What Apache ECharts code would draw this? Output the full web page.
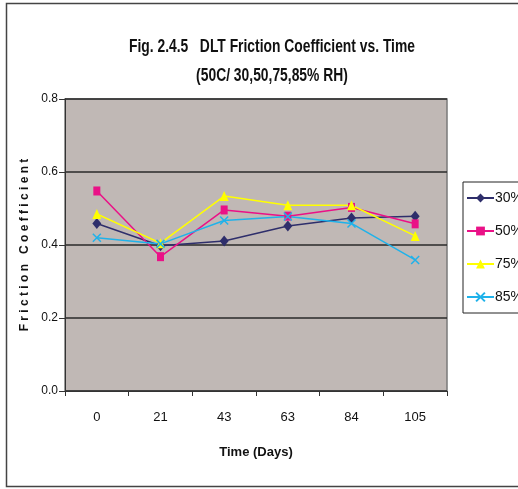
<!DOCTYPE html>
<html>
<head>
<meta charset="utf-8">
<script src="https://cdn.jsdelivr.net/npm/echarts@6/dist/echarts.min.js"></script>
<style>
  html, body { margin: 0; padding: 0; background: #ffffff; }
  #chart { width: 518px; height: 489px; }
</style>
</head>
<body>
<div id="chart"></div>
<script>
// Sampling days
const days = ['0', '21', '43', '63', '84', '105'];

// Friction coefficient per relative humidity
const rh30 = [0.459, 0.398, 0.411, 0.452, 0.474, 0.479];
const rh50 = [0.548, 0.368, 0.496, 0.479, 0.503, 0.458];
const rh75 = [0.485, 0.405, 0.534, 0.509, 0.509, 0.425];
const rh85 = [0.420, 0.403, 0.467, 0.478, 0.459, 0.359];

// Y axis ticks
const yTicks = [0.0, 0.2, 0.4, 0.6, 0.8];

// Chart heading lines
const titleLines = ['Fig. 2.4.5   DLT Friction Coefficient vs. Time', '(50C/ 30,50,75,85% RH)'];

const FONT = "'Liberation Sans', Arial, sans-serif";
const X_MARK = 'path://M0,0L10,10M10,0L0,10';

function lineSeries(name, data, color, symbol, size, stroke) {
  return {
    name: name,
    type: 'line',
    data: data,
    symbol: symbol,
    symbolSize: size,
    showSymbol: true,
    lineStyle: { color: color, width: 1.5 },
    itemStyle: stroke
      ? { color: color, borderColor: color, borderWidth: 1.5 }
      : { color: color, borderWidth: 0 },
    emphasis: { disabled: true },
    z: 3
  };
}

// Narrow bold heading text, horizontally condensed
function headingText(text, y) {
  return {
    type: 'text',
    x: 272,
    y: y,
    scaleX: 0.77,
    style: {
      text: text,
      fill: '#111111',
      font: 'bold 18px ' + FONT,
      textAlign: 'center',
      textVerticalAlign: 'middle'
    },
    silent: true
  };
}

const chart = echarts.init(document.getElementById('chart'), null, { renderer: 'canvas' });

chart.setOption({
  animation: false,
  backgroundColor: '#ffffff',
  textStyle: { fontFamily: FONT },
  graphic: [
    {
      type: 'rect',
      shape: { x: 6.5, y: 3.5, width: 530, height: 483 },
      style: { fill: 'none', stroke: '#444444', lineWidth: 1.5 },
      silent: true,
      z: -10
    },
    headingText(titleLines[0], 47),
    headingText(titleLines[1], 76)
  ],
  legend: {
    orient: 'vertical',
    left: 463,
    top: 182,
    padding: [9, 12, 9, 3],
    itemGap: 19,
    itemWidth: 27,
    itemHeight: 11,
    borderColor: '#222222',
    borderWidth: 1,
    backgroundColor: '#ffffff',
    textStyle: { fontFamily: FONT, fontSize: 14, color: '#111111', padding: [0, 0, 0, -4] },
    data: ['30%', '50%', '75%', '85%']
  },
  grid: {
    left: 65,
    right: 71,
    top: 99,
    bottom: 98,
    show: true,
    backgroundColor: '#c0b8b5',
    borderColor: '#7a7a7a',
    borderWidth: 1.5
  },
  xAxis: {
    type: 'category',
    data: days,
    boundaryGap: true,
    name: 'Time (Days)',
    nameLocation: 'middle',
    nameGap: 55,
    nameTextStyle: { fontFamily: FONT, fontSize: 13, fontWeight: 'bold', color: '#111111' },
    axisLine: { lineStyle: { color: '#333333', width: 1 } },
    axisTick: { show: true, interval: 0, length: 5, lineStyle: { color: '#333333' } },
    axisLabel: { margin: 20, fontFamily: FONT, fontSize: 13, color: '#111111' },
    splitLine: { show: false }
  },
  yAxis: {
    type: 'value',
    min: yTicks[0],
    max: yTicks[yTicks.length - 1],
    interval: 0.2,
    name: 'F r i c t i o n   C o e f f i c i e n t',
    nameLocation: 'middle',
    nameGap: 21,
    nameRotate: 90,
    nameTextStyle: { fontFamily: FONT, fontSize: 12, fontWeight: 'bold', color: '#111111' },
    axisLine: { show: true, lineStyle: { color: '#333333', width: 1 } },
    axisTick: { show: true, length: 6, lineStyle: { color: '#333333' } },
    axisLabel: {
      margin: 7,
      fontFamily: FONT,
      fontSize: 12,
      color: '#111111',
      formatter: function (v) { return v.toFixed(1); }
    },
    splitLine: { show: true, lineStyle: { color: '#2a2a2a', width: 1.5 } }
  },
  series: [
    lineSeries('30%', rh30, '#2e2e6b', 'diamond', [9, 11], false),
    lineSeries('50%', rh50, '#ea1187', 'rect', [7, 9], false),
    lineSeries('75%', rh75, '#ffff00', 'triangle', [9, 10], false),
    lineSeries('85%', rh85, '#1fb2ea', X_MARK, [8, 8], true)
  ]
});
</script>
</body>
</html>
